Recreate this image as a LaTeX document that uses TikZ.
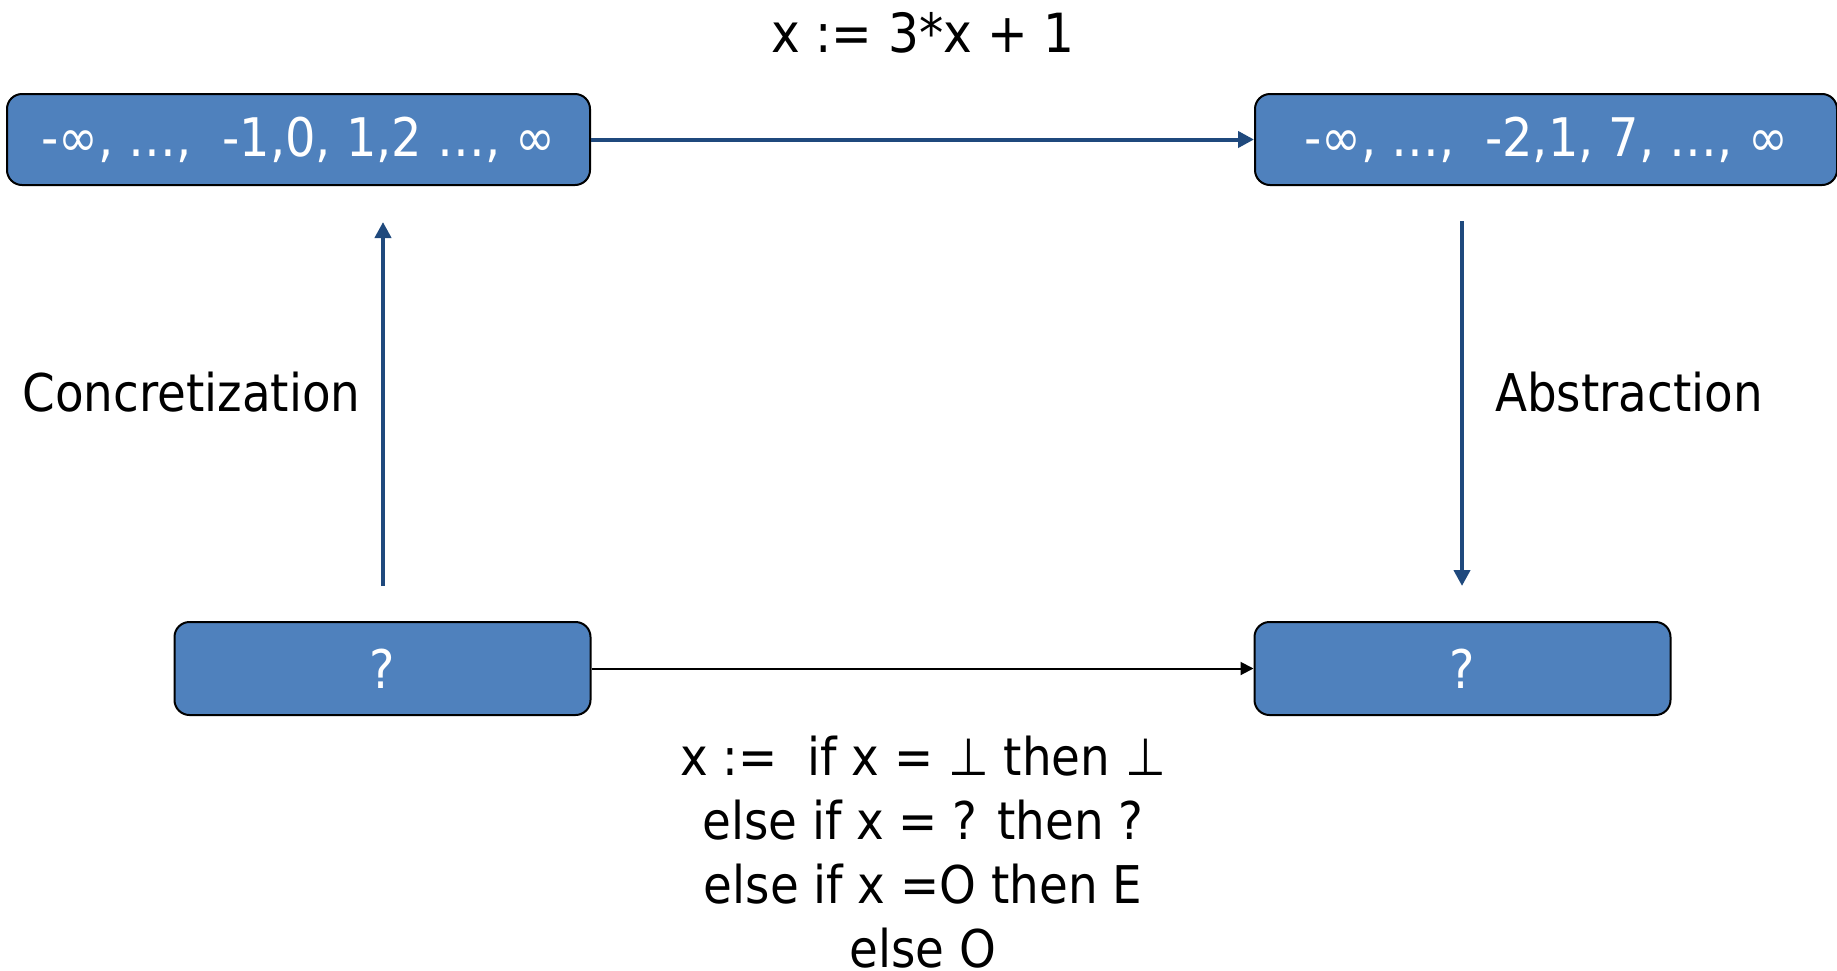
\documentclass[tikz,border=0pt]{standalone}
\usepackage{fontspec}
\setmainfont{DejaVu Sans Condensed}
\usetikzlibrary{arrows.meta}
\definecolor{boxblue}{RGB}{79,129,189}
\definecolor{arrowblue}{RGB}{31,73,125}
\tikzset{
  valbox/.style={draw=black, line width=1pt, fill=boxblue, rounded corners=7.5pt,
    text=white, font=\fontsize{26.6}{30}\selectfont, inner sep=0pt, minimum height=45.5pt},
  bluearrow/.style={draw=arrowblue, line width=2pt, -{Triangle[length=8pt,width=8pt]}},
  blackarrow/.style={draw=black, line width=1pt, -{Triangle[length=6.5pt,width=6.5pt]}},
  lbl/.style={font=\fontsize{26}{32}\selectfont, text=black, inner sep=0pt, align=center}
}
\begin{document}
\begin{tikzpicture}[x=0.5pt,y=-0.5pt]
\useasboundingbox (0,0) rectangle (1837,970);
\node[valbox, minimum width=291.5pt] (tl) at (298.5,139.5) {-∞, …,\ \ -1,0, 1,2 …, ∞};
\node[valbox, minimum width=291pt] (tr) at (1546,139.5) {-∞, …,\ \ -2,1, 7, …, ∞};
\node[valbox, minimum width=208pt, minimum height=46.5pt] (bl) at (382.5,668.5) {?};
\node[valbox, minimum width=208pt, minimum height=46.5pt] (br) at (1462.5,668.5) {?};
\node[lbl, font=\fontsize{27}{32}\selectfont] (top) at (923,33) {x := 3*x + 1};
\node[lbl] (conc) at (191.5,392) {Concretization};
\node[lbl] (abs) at (1629,392) {Abstraction};
\node[lbl, anchor=north] (bot) at (923,736) {x :=\ \ if x = ⊥ then ⊥\\else if x = ? then ?\\else if x =O then E\\else O};
\coordinate (lstart) at (383,586);
\coordinate (lend) at (383,222);
\coordinate (rstart) at (1462,221);
\coordinate (rend) at (1462,586);
\draw[bluearrow] (tl.east) -- (tr.west);
\draw[blackarrow] (bl.east) -- (br.west);
\draw[bluearrow] (lstart) -- (lend);
\draw[bluearrow] (rstart) -- (rend);
\end{tikzpicture}
\end{document}
